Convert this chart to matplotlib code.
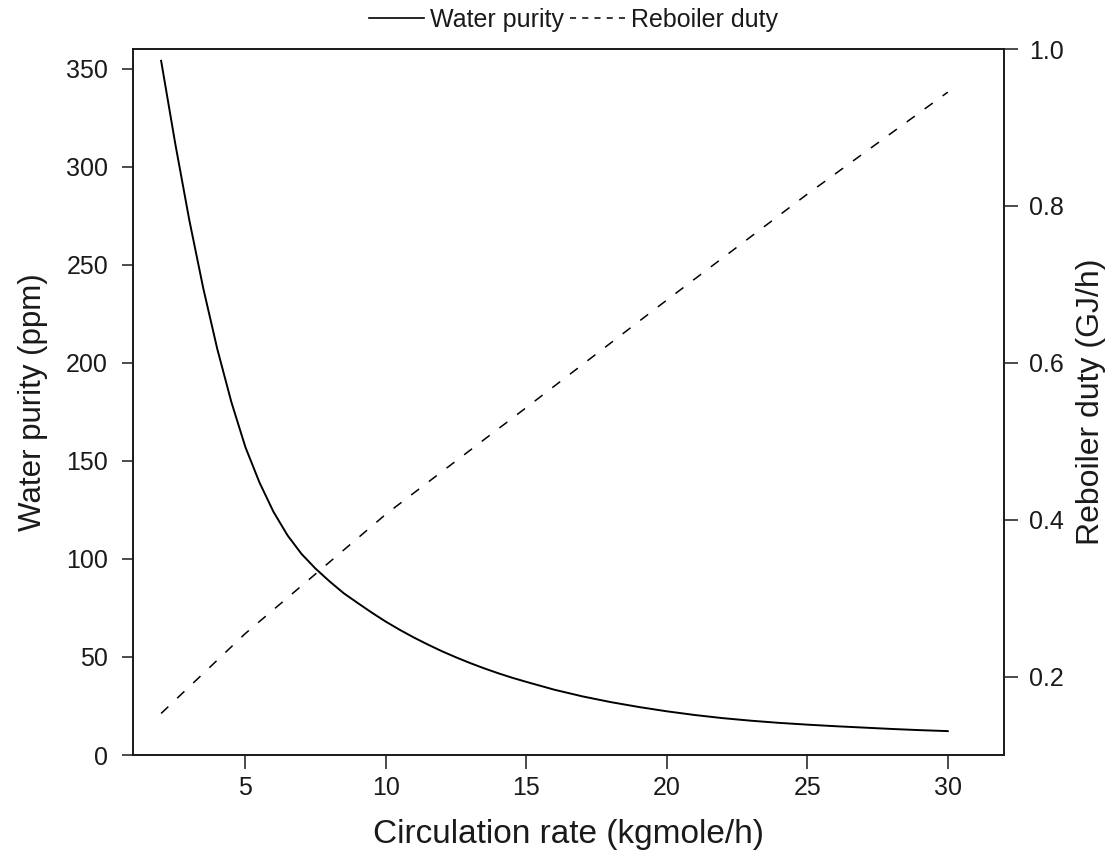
import matplotlib
matplotlib.use("Agg")
import matplotlib.pyplot as plt
from matplotlib.lines import Line2D

plt.rcParams['font.family'] = ['Liberation Sans', 'DejaVu Sans']

# Water purity (ppm) versus circulation rate (kgmole/h)
rate_purity = [2, 2.5, 3, 3.5, 4, 4.5, 5, 5.5, 6, 6.5, 7, 7.5, 8, 8.5, 9, 9.5,
               10, 10.5, 11, 11.5, 12, 12.5, 13, 13.5, 14, 14.5, 15, 16, 17, 18,
               19, 20, 21, 22, 23, 24, 25, 26, 27, 28, 29, 30]
water_purity = [354, 312, 273, 238, 207, 180, 157, 139, 124, 112, 102.5, 95,
                88.5, 82.5, 77.5, 72.6, 68.0, 63.8, 59.9, 56.3, 52.9, 49.8, 46.9,
                44.2, 41.7, 39.4, 37.3, 33.3, 29.9, 27.0, 24.5, 22.3, 20.4, 18.8,
                17.5, 16.4, 15.5, 14.7, 14.0, 13.3, 12.7, 12.2]

# Reboiler duty (GJ/h) versus circulation rate (kgmole/h)
rate_duty = [2, 5, 7.7, 10, 15, 20, 25, 30]
reboiler_duty = [0.153, 0.255, 0.337, 0.407, 0.543, 0.68, 0.815, 0.945]

x_ticks = [5, 10, 15, 20, 25, 30]
purity_ticks = [0, 50, 100, 150, 200, 250, 300, 350]
duty_ticks = [0.2, 0.4, 0.6, 0.8, 1.0]

ink = '#1a1a1a'
fig = plt.figure(figsize=(11.16, 8.63), dpi=100)
ax = fig.add_axes([0.1192, 0.1251, 0.7804, 0.8181])
ax2 = ax.twinx()

ax.plot(rate_purity, water_purity, color='black', lw=1.4,
        solid_joinstyle='round')
ax2.plot(rate_duty, reboiler_duty, color='black', lw=1.1,
         linestyle=(0, (6.5, 8)))

ax.set_xlim(1, 32)
ax.set_ylim(0, 360)
ax2.set_ylim(0.1, 1.0)

ax.set_xticks(x_ticks)
ax.set_yticks(purity_ticks)
ax2.set_yticks(duty_ticks)
ax2.set_yticklabels([f'{v:.1f}' for v in duty_ticks])

for a in (ax, ax2):
    for s in a.spines.values():
        s.set_linewidth(1.2)
        s.set_color(ink)
    a.tick_params(direction='out', width=1.1, colors=ink, labelsize=18)
ax.tick_params(axis='x', length=10, pad=5)
ax.tick_params(axis='y', length=8, pad=10)
ax2.tick_params(axis='y', length=10, pad=8)

ax.set_xlabel('Circulation rate (kgmole/h)', fontsize=24, color=ink,
              labelpad=14)
ax.set_ylabel('Water purity (ppm)', fontsize=22.5, color=ink, labelpad=13)
ax2.set_ylabel('Reboiler duty (GJ/h)', fontsize=23, color=ink, labelpad=9)

handles = [Line2D([], [], color='black', lw=1.2),
           Line2D([], [], color='black', lw=1.1, linestyle=(0, (4, 4)))]
fig.legend(handles, ['Water purity', 'Reboiler duty'], loc='center',
           bbox_to_anchor=(0.514, 0.977), ncol=2, frameon=False,
           fontsize=18, handlelength=2.2, handletextpad=0.25,
           columnspacing=0.25, labelcolor=ink)

fig.savefig('out.png', dpi=100)
